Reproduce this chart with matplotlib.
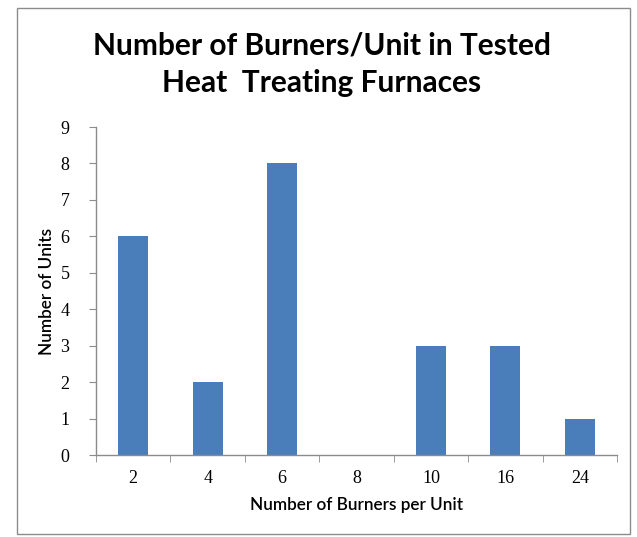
import matplotlib
matplotlib.use("Agg")
import matplotlib.pyplot as plt
from matplotlib.patches import Rectangle

categories = ["2", "4", "6", "8", "10", "16", "24"]
units = [6, 2, 8, 0, 3, 3, 1]
yticks = list(range(0, 10))

W, H = 637, 537
fig = plt.figure(figsize=(W / 100, H / 100), dpi=100)
fig.patches.append(Rectangle((17 / W, 1 - 534 / H), (630 - 17) / W, (534 - 8) / H,
                             transform=fig.transFigure, fill=False,
                             edgecolor="#8c8c8c", linewidth=1.0))

ax = fig.add_axes([96 / W, 1 - 455 / H, (617 - 96) / W, (455 - 127) / H])
x = list(range(len(categories)))
ax.bar(x, units, width=0.4, color="#4a7ebb", edgecolor="none")
ax.set_xlim(-0.5, len(categories) - 0.5)
ax.set_ylim(0, 9)
ax.set_yticks(yticks)
ax.set_yticklabels([str(t) for t in yticks], family="Liberation Serif", fontsize=13)
ax.set_xticks(x)
ax.set_xticklabels(categories, family="Liberation Serif", fontsize=13)
ax.set_xticks([i - 0.5 for i in range(len(categories) + 1)], minor=True)
ax.tick_params(axis="x", which="major", length=0, pad=11)
ax.tick_params(axis="x", which="minor", length=5, color="#8c8c8c", direction="out")
ax.tick_params(axis="y", length=5, color="#8c8c8c", direction="out", pad=14)
for s in ["top", "right"]:
    ax.spines[s].set_visible(False)
for s in ["left", "bottom"]:
    ax.spines[s].set_color("#8c8c8c")
    ax.spines[s].set_linewidth(1.0)

ax.set_ylabel("Number of Units", family="Lato", fontsize=12.3, fontweight="semibold", labelpad=4)
ax.set_xlabel("Number of Burners per Unit", family="Lato", fontsize=12.3, fontweight="semibold", labelpad=7)

fig.text(322 / W, 1 - 64 / H, "Number of Burners/Unit in Tested\nHeat  Treating Furnaces",
         ha="center", va="center", family="Lato", fontsize=21.5, fontweight="bold",
         linespacing=1.4)

fig.savefig("out.png", dpi=100)
